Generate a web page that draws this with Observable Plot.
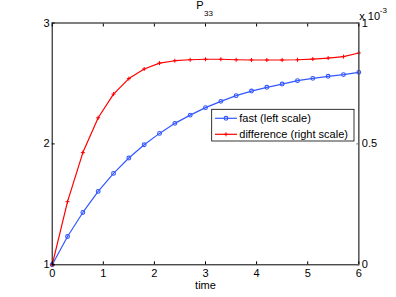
<!DOCTYPE html>
<html><head><meta charset="utf-8">
<script src="https://cdn.jsdelivr.net/npm/d3@7"></script>
<script src="https://cdn.jsdelivr.net/npm/@observablehq/plot@0.6"></script>
<style>html,body{margin:0;padding:0;background:#fff}</style>
</head><body><div id="chart"></div>
<script>
const time = [0, 0.3, 0.6, 0.9, 1.2, 1.5, 1.8, 2.1, 2.4, 2.7, 3.0, 3.3, 3.6, 3.9, 4.2, 4.5, 4.8, 5.1, 5.4, 5.7, 6.0];
const fast = [1.000, 1.234, 1.433, 1.607, 1.756, 1.883, 1.993, 2.087, 2.170, 2.238, 2.300, 2.352, 2.399, 2.437, 2.468, 2.495, 2.523, 2.542, 2.559, 2.573, 2.592];
// difference, in units of 1e-3 (right scale)
const difference = [0.000, 0.261, 0.464, 0.608, 0.706, 0.770, 0.810, 0.834, 0.844, 0.848, 0.850, 0.850, 0.848, 0.847, 0.847, 0.847, 0.848, 0.851, 0.855, 0.861, 0.876];
const xTicks = [0, 1, 2, 3, 4, 5, 6];
const leftTicks = [1, 2, 3];
const rightTicks = [0, 0.5, 1];
const seriesNames = ["fast (left scale)", "difference (right scale)"];
const colors = ["#3358ff", "#ff0000"];
const titleMain = "P", titleSub = "33";
const xLabel = "time";
const expBase = "x 10", expPow = "-3";

const rightToLeft = d3.scaleLinear().domain([0, 1]).range([1, 3]);
const fastData = time.map((t, i) => ({t, v: fast[i]}));
const diffData = time.map((t, i) => ({t, v: rightToLeft(difference[i])}));

const font = "'Liberation Sans', Arial, Helvetica, sans-serif";

const plot = Plot.plot({
  width: 396, height: 297,
  marginLeft: 51.7, marginRight: 37.7, marginTop: 22.5, marginBottom: 32.7,
  style: {fontFamily: font, fontSize: "11px", color: "black", background: "white", overflow: "visible"},
  x: {domain: [0, 6]},
  y: {domain: [1, 3]},
  marks: [
    Plot.line(fastData, {x: "t", y: "v", stroke: colors[0], strokeWidth: 1.2}),
    Plot.dot(fastData, {x: "t", y: "v", r: 1.9, stroke: colors[0], strokeWidth: 1.1, fill: "none"}),
    Plot.line(diffData, {x: "t", y: "v", stroke: colors[1], strokeWidth: 1.2}),
    Plot.dot(diffData, {x: "t", y: "v", r: 1.4, symbol: "plus", stroke: colors[1], strokeWidth: 1}),
    Plot.frame({stroke: "black"}),
    Plot.ruleX([6], {stroke: "#666"}),
    Plot.axisX({ticks: xTicks, tickSize: -3, tickPadding: 7, tickFormat: d3.format("d"), label: null}),
    Plot.axisX({anchor: "top", ticks: xTicks, tickSize: -3, tickFormat: () => "", label: null}),
    Plot.axisY({ticks: leftTicks, tickSize: -3, tickPadding: 5.7, tickFormat: d3.format("d"), label: null}),
    Plot.axisY({anchor: "right", ticks: rightTicks.map(rightToLeft), tickSize: -3, tickPadding: 6,
      stroke: "#666", tickFormat: d => d3.format("~g")(rightToLeft.invert(d)), label: null}),
    Plot.text([xLabel], {frameAnchor: "bottom", dy: 20.7, lineAnchor: "middle", text: d => d}),
    Plot.text([titleMain], {frameAnchor: "top", dx: -2, dy: -17.5, textAnchor: "end", lineAnchor: "middle", text: d => d}),
    Plot.text([titleSub], {frameAnchor: "top", dx: -1.5, dy: -10, textAnchor: "start", lineAnchor: "middle", fontSize: 8, text: d => d}),
    Plot.text([expBase], {frameAnchor: "top-right", dx: 0.5, dy: -7, textAnchor: "start", lineAnchor: "middle", text: d => d}),
    Plot.text([expPow], {frameAnchor: "top-right", dx: 21, dy: -13, textAnchor: "start", lineAnchor: "middle", fontSize: 8, text: d => d})
  ]
});
document.getElementById("chart").appendChild(plot);

// Legend (MATLAB-style box)
const svg = d3.select(plot);
const lg = svg.append("g").attr("font-family", font).attr("font-size", 11).attr("text-anchor", "start");
lg.append("rect").attr("x", 211.7).attr("y", 109.3).attr("width", 142.3).attr("height", 31.7)
  .attr("fill", "white").attr("stroke", "black").attr("stroke-width", 0.8);
const rowsY = [118.3, 134.3];
seriesNames.forEach((name, i) => {
  const y = rowsY[i];
  lg.append("line").attr("x1", 215).attr("x2", 237).attr("y1", y).attr("y2", y)
    .attr("stroke", colors[i]).attr("stroke-width", 1.2);
  if (i === 0) {
    lg.append("circle").attr("cx", 226).attr("cy", y).attr("r", 1.9)
      .attr("fill", "none").attr("stroke", colors[i]).attr("stroke-width", 1.1);
  } else {
    lg.append("path").attr("d", `M224,${y}H228M226,${y - 2}V${y + 2}`)
      .attr("stroke", colors[i]).attr("stroke-width", 1);
  }
  lg.append("text").attr("x", 239.3).attr("y", y).attr("dy", "0.35em").attr("text-anchor", "start")
    .attr("fill", "black").text(name);
});
</script>
</body></html>
